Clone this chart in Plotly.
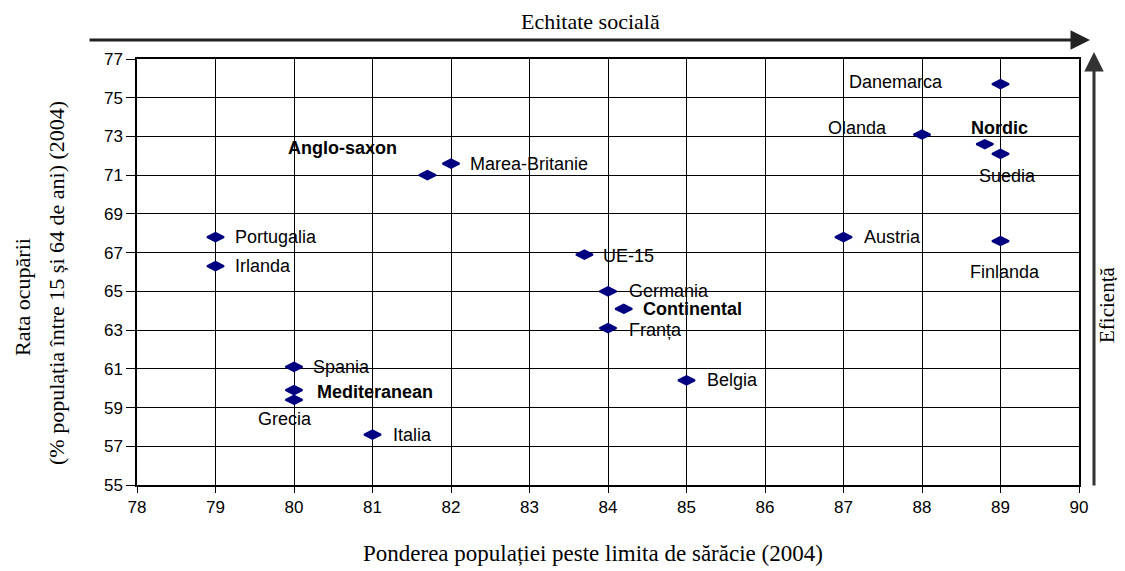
import plotly.graph_objects as go

# ---- data ----
countries = ["Danemarca", "Olanda", "Nordic", "Suedia", "Austria", "Finlanda",
             "Marea-Britanie", "Anglo-saxon", "Portugalia", "Irlanda", "UE-15",
             "Germania", "Continental", "Franța", "Belgia", "Spania",
             "Mediteranean", "Grecia", "Italia"]
poverty = [89, 88, 88.8, 89, 87, 89,
           82, 81.7, 79, 79, 83.7,
           84, 84.2, 84, 85, 80,
           80, 80, 81]
employment = [75.7, 73.1, 72.6, 72.1, 67.8, 67.6,
              71.6, 71.0, 67.8, 66.3, 66.9,
              65.0, 64.1, 63.1, 60.4, 61.1,
              59.9, 59.4, 57.6]
is_group = [False, False, True, False, False, False,
            False, True, False, False, False,
            False, True, False, False, False,
            True, False, False]
x_ticks = list(range(78, 91))
y_ticks = list(range(55, 78, 2))

# label placement (style only): xanchor, xshift, yshift
label_pos = {
    "Danemarca": ("right", -56, 2),
    "Olanda": ("right", -33, 7),
    "Nordic": ("center", 15, 16),
    "Suedia": ("center", 7, -22),
    "Austria": ("left", 18, 0),
    "Finlanda": ("center", 4, -31),
    "Marea-Britanie": ("left", 17, 0),
    "Anglo-saxon": ("center", -85, 27),
    "Portugalia": ("left", 17, 0),
    "Irlanda": ("left", 17, 0),
    "UE-15": ("left", 17, -1),
    "Germania": ("left", 19, 0),
    "Continental": ("left", 17, 0),
    "Franța": ("left", 19, -2),
    "Belgia": ("left", 18, 0),
    "Spania": ("left", 17, 0),
    "Mediteranean": ("left", 21, -2),
    "Grecia": ("center", -9, -19),
    "Italia": ("left", 18, 0),
}

OFF = 8  # page body margin
W, H = 1125 - OFF, 571 - OFF
# reference plot box (page pixels): left 137, right 1079, top 59, bottom 485
L = 137 - OFF
T = 59 - OFF
R = W - (1079 - OFF)
B = H - (485 - OFF)
pw, ph = W - L - R, H - T - B


def px(xp):
    return (xp - OFF - L) / pw


def py(yp):
    return (H - B - (yp - OFF)) / ph


fig = go.Figure()
fig.add_trace(go.Scatter(
    x=poverty, y=employment, mode="markers",
    marker=dict(symbol="diamond-wide", size=12, color="#000080",
                line=dict(width=2, color="#000080")),
    hoverinfo="text", text=countries, showlegend=False,
))

annotations = []
for name, xv, yv, grp in zip(countries, poverty, employment, is_group):
    anc, xs, ys = label_pos[name]
    annotations.append(dict(
        x=xv, y=yv, xref="x", yref="y", showarrow=False,
        text=f"<b>{name}</b>" if grp else name,
        xanchor=anc, yanchor="middle", xshift=xs, yshift=ys,
        font=dict(family="Liberation Sans, Arial", size=18, color="black"),
    ))

serif = dict(family="Liberation Serif, Times New Roman", size=22, color="black")
serif_x = dict(family="Liberation Serif, Times New Roman", size=23, color="black")
serif_e = dict(family="Liberation Serif, Times New Roman", size=21, color="black")

annotations += [
    dict(x=px(593), y=py(553), xref="paper", yref="paper", showarrow=False,
         text="Ponderea populației peste limita de sărăcie (2004)", font=serif_x,
         xanchor="center", yanchor="middle"),
    dict(x=px(590), y=py(22), xref="paper", yref="paper", showarrow=False,
         text="Echitate socială", font=serif, xanchor="center", yanchor="middle"),
    dict(x=px(22), y=py(297), xref="paper", yref="paper", showarrow=False,
         text="Rata ocupării", font=serif, textangle=-90,
         xanchor="center", yanchor="middle"),
    dict(x=px(56), y=py(283), xref="paper", yref="paper", showarrow=False,
         text="(% populația între 15 și 64 de ani) (2004)", font=serif, textangle=-90,
         xanchor="center", yanchor="middle"),
    dict(x=px(1107), y=py(305), xref="paper", yref="paper", showarrow=False,
         text="Eficiență", font=serif_e, textangle=-90,
         xanchor="center", yanchor="middle"),
    # horizontal arrow
    dict(x=px(1090), y=py(40), xref="paper", yref="paper",
         ax=-1002, ay=0, axref="pixel", ayref="pixel",
         showarrow=True, arrowhead=2, arrowsize=1.3, arrowwidth=3,
         arrowcolor="#222222", text=""),
    # vertical arrow
    dict(x=px(1094), y=py(52), xref="paper", yref="paper",
         ax=0, ay=435, axref="pixel", ayref="pixel",
         showarrow=True, arrowhead=2, arrowsize=1.3, arrowwidth=3,
         arrowcolor="#333333", text=""),
]

tickfont = dict(family="Liberation Sans, Arial", size=17, color="black")
fig.update_layout(
    width=W, height=H,
    margin=dict(l=L, r=R, t=T, b=B),
    plot_bgcolor="white", paper_bgcolor="white",
    annotations=annotations,
    xaxis=dict(range=[78, 90], tickvals=x_ticks, showgrid=True,
               gridcolor="black", gridwidth=1.2, zeroline=False,
               showline=True, linecolor="black", linewidth=1.5, mirror=True,
               ticks="outside", ticklen=6, tickcolor="black",
               tickfont=tickfont),
    yaxis=dict(range=[55, 77], tickvals=y_ticks, showgrid=True,
               gridcolor="black", gridwidth=1.2, zeroline=False,
               showline=True, linecolor="black", linewidth=1.5, mirror=True,
               ticks="outside", ticklen=9, tickcolor="black",
               tickfont=tickfont),
)

fig.write_html("out.html")
